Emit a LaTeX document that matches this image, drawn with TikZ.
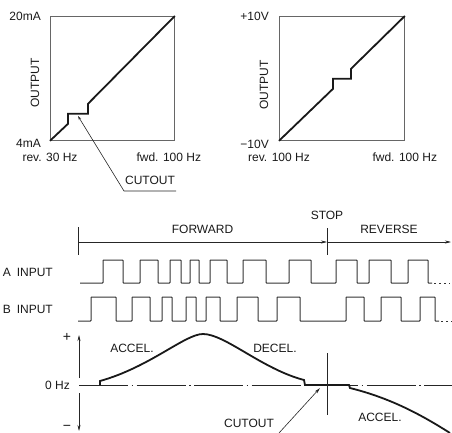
\documentclass[tikz,border=0pt]{standalone}
\usepackage{fontspec}
\setmainfont{Liberation Sans}
\usepackage{tikz}
\usetikzlibrary{positioning,arrows.meta}

\begin{document}
\begin{tikzpicture}[
        x=1pt, y=-1pt,
        font=\fontsize{12}{14}\selectfont,
        every node/.style={inner sep=0pt, text=black!90},
        plotbox/.style={draw=black!60, line width=0.8pt, minimum width=124pt, minimum height=124pt, anchor=north west},
        ramp/.style={line width=1.8pt, black!90},
        pulse/.style={line width=1pt, black!80, rounded corners=0.6pt},
        tail/.style={line width=1pt, black!80, dash pattern=on 2pt off 3pt},
        leader/.style={line width=0.6pt, black!85},
        span/.style={leader, -{Stealth[length=6pt, width=3pt]}},
        zeroline/.style={line width=0.8pt, black!85, dash pattern=on 49pt off 3.5pt on 1.5pt off 3.5pt},
        speed/.style={line width=1.8pt, black!90}
    ]
    \useasboundingbox (0,0) rectangle (452,433);

    % current output
    \node[plotbox] (mA) at (50,16) {};
    \draw[ramp] (mA.south west) -- ++(18,-17) -- ++(0,-10) -- ++(20,0) -- ++(0,-10) -- (mA.north east);
    \node[left=9pt of mA.north west] (mAhigh) {20mA};
    \node[left=9pt of mA.south west, yshift=-3pt] (mAlow) {4mA};
    \node[rotate=90] (mAout) at (35,83) {OUTPUT};
    \node[below=12pt of mA.south west] (mArev) {rev. 30 Hz};
    \node[below=12pt of mA.south east, xshift=-6pt] (mAfwd) {fwd. 100 Hz};
    \node (mAcut) at (150,180) {CUTOUT};
    \coordinate (mAcutR) at (176,191);
    \coordinate (mAcutL) at (124,191);
    \coordinate (mAstep) at (78,116);
    \draw[leader, -{Stealth[length=4pt, width=2.5pt]}] (mAcutR) -- (mAcutL) -- (mAstep);

    % voltage output
    \node[plotbox, minimum width=125pt] (V) at (279,16) {};
    \draw[ramp] (V.south west) -- ++(54,-52) -- ++(0,-10) -- ++(18,0) -- ++(0,-10) -- (V.north east);
    \node[left=10pt of V.north west] (Vhigh) {+10V};
    \node[left=10pt of V.south west, yshift=-4pt] (Vlow) {−10V};
    \node[rotate=90] (Vout) at (264,85) {OUTPUT};
    \node[below=12pt of V.south west] (Vrev) {rev. 100 Hz};
    \node[below=12pt of V.south east] (Vfwd) {fwd. 100 Hz};

    % direction
    \coordinate (fwd) at (78,242);
    \coordinate (stop) at (327,242);
    \coordinate (rev) at (451,242);
    \draw[leader] ([yshift=15pt]fwd) -- ([yshift=-13pt]fwd);
    \draw[leader] ([yshift=14pt]stop) -- ([yshift=-13pt]stop);
    \draw[span] (fwd) -- node[above=8pt] (fwdlbl) {FORWARD} (stop);
    \draw[span] (stop) -- node[above=8pt] (revlbl) {REVERSE} (rev);
    \node (stoplbl) at (327,215) {STOP};

    % encoder inputs
    \node[anchor=east] (ain) at (53,272) {A\enspace INPUT};
    \node[anchor=east] (bin) at (53,309) {B\enspace INPUT};
    \draw[pulse] (80,283) \foreach \r/\f in {103/123,140/158,170/181,190/199,210/227,243/266,289/311,336/357,369/391,408/428} { -- (\r,283) -- (\r,260) -- (\f,260) -- (\f,283) } -- (432,283);
    \draw[tail] (434,283) -- (450,283);
    \draw[pulse] (78,321) \foreach \r/\f in {91/116,132/150,162/172,186/196,206/220,237/258,277/300,346/364,381/401,420/435} { -- (\r,321) -- (\r,297) -- (\f,297) -- (\f,321) } -- (439,321);
    \draw[tail] (441,321) -- (452,321);

    % speed
    \node[anchor=east] (zero) at (70,385) {0 Hz};
    \node[font=\fontsize{14}{14}\selectfont] (plus) at (67,337) {+};
    \node[font=\fontsize{14}{14}\selectfont] (minus) at (67,428) {−};
    \coordinate (axis) at (79,385);
    \coordinate (up) at (79,335);
    \coordinate (down) at (79,431);
    \draw[span] ([yshift=7pt]axis) -- (up);
    \draw[span] ([yshift=-8pt]axis) -- (down);
    \draw[zeroline] (axis) -- (452,385);
    \draw[speed] (100,385) -- (100,381) .. controls (150,367) and (185,334) .. (203,334)
        .. controls (225,334) and (262,369) .. (304,380) -- (305,385) -- (349,385) -- (350,388)
        .. controls (390,398) and (420,414) .. (450,433);
    \draw[leader] (327,353) -- (327,415);
    \node (accel) at (132,348) {ACCEL.};
    \node (decel) at (275,348) {DECEL.};
    \node (accelrev) at (380,417) {ACCEL.};
    \node (cutlbl) at (249,423) {CUTOUT};
    \coordinate (cutfoot) at (279,433);
    \coordinate (cuthead) at (320,388);
    \draw[span] (cutfoot) -- (cuthead);
\end{tikzpicture}
\end{document}
